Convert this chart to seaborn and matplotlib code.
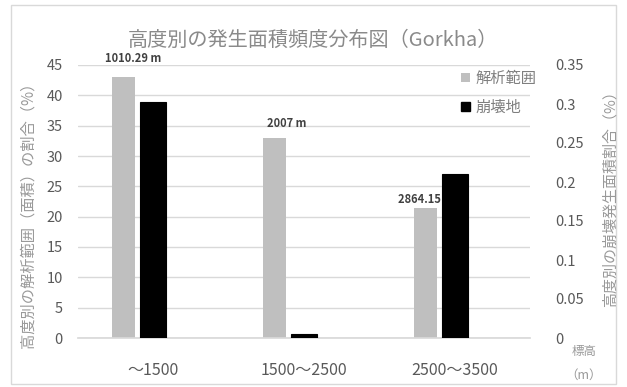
import matplotlib
matplotlib.use("Agg")
import matplotlib.pyplot as plt
from matplotlib.patches import Patch, Rectangle
import seaborn as sns
import pandas as pd
import numpy as np

# Elevation bands and shares per band
bands = ["～1500", "1500～2500", "2500～3500"]
area_share = [43.1, 32.9, 21.4]          # share of analysed area (%), left axis
landslide_share = [0.303, 0.005, 0.2105]  # share of landslide area (%), right axis
mean_elev_labels = ["1010.29 m", "2007 m", "2864.15 m"]

series_names = ["解析範囲", "崩壊地"]

sns.set_theme(style="white")
plt.rcParams["font.family"] = ["Noto Sans CJK JP", "DejaVu Sans"]

W, H = 627, 387
fig = plt.figure(figsize=(W / 100, H / 100), dpi=100)
fig.patch.set_facecolor("white")

# plot area in pixels: x 78..530, y 65..338
ax = fig.add_axes([78 / W, 1 - 338 / H, (530 - 78) / W, (338 - 65) / H])
ax2 = ax.twinx()

idx = np.arange(len(bands))
gray_df = pd.DataFrame({"x": idx - 0.196, "y": area_share})
black_df = pd.DataFrame({"x": idx.astype(float), "y": landslide_share})

sns.barplot(data=gray_df, x="x", y="y", native_scale=True, width=0.152,
            color="#bfbfbf", saturation=1, linewidth=0, ax=ax)
sns.barplot(data=black_df, x="x", y="y", native_scale=True, width=0.172,
            color="black", saturation=1, edgecolor="black", linewidth=0.8, ax=ax2)

ax.set_xlim(-0.5, 2.5)
ax2.set_xlim(-0.5, 2.5)
ax.set_ylim(0, 45)
ax2.set_ylim(0, 0.35)
ax.set_yticks(np.arange(0, 46, 5))
ax2.set_yticks(np.round(np.arange(0, 0.351, 0.05), 2))
ax2.set_yticklabels(["0", "0.05", "0.1", "0.15", "0.2", "0.25", "0.3", "0.35"])
ax.set_xticks(idx)
ax.set_xticklabels(bands)

ax.set_xlabel("")
ax.set_ylabel("")
ax2.set_xlabel("")
ax2.set_ylabel("")

tick_color = "#595959"
ax.tick_params(axis="y", length=0, pad=11, labelsize=10.5, labelcolor=tick_color)
ax.tick_params(axis="x", length=0, pad=17, labelsize=11.5, labelcolor=tick_color)
ax2.tick_params(axis="y", length=0, pad=18, labelsize=10.5, labelcolor=tick_color)

ax.yaxis.grid(True, color="#d9d9d9", linewidth=1)
ax.set_axisbelow(True)
for a in (ax, ax2):
    for s in ("top", "left", "right"):
        a.spines[s].set_visible(False)
    a.spines["bottom"].set_color("#d9d9d9")
    a.patch.set_alpha(0)
ax2.spines["bottom"].set_visible(False)

# mean elevation labels above the analysed-area bars
label_offsets = [(7, 13), (9, 11), (0.5, 6.5)]
for i, (txt, val) in enumerate(zip(mean_elev_labels, area_share)):
    ax.annotate(txt, xy=(idx[i] - 0.196, val), xytext=label_offsets[i],
                textcoords="offset points", ha="center", va="center",
                fontsize=8, color="#404040", fontweight="semibold")

handles = [Patch(facecolor="#bfbfbf", edgecolor="none"),
           Patch(facecolor="black", edgecolor="black")]
leg = ax2.legend(handles, series_names, loc="upper left",
                 bbox_to_anchor=(455 / W, 1 - 64 / H), bbox_transform=fig.transFigure,
                 frameon=False, fontsize=11, handlelength=0.55, handleheight=0.55,
                 handletextpad=0.4, labelspacing=0.75, borderaxespad=0)
for t in leg.get_texts():
    t.set_color("#7f7f7f")

label_color = "#999999"
fig.text(313 / W, 1 - 40 / H, "高度別の発生面積頻度分布図（Gorkha）", ha="center",
         va="center", fontsize=14.5, color="#8a8a8a")
fig.text(28 / W, 1 - 211 / H, "高度別の解析範囲（面積）の割合（%）", rotation=90,
         ha="center", va="center", fontsize=11, color=label_color)
fig.text(610 / W, 1 - 195 / H, "高度別の崩壊発生面積割合（%）", rotation=90,
         ha="center", va="center", fontsize=10.8, color=label_color)
fig.text(584 / W, 1 - 352 / H, "標高", ha="center", va="center",
         fontsize=9, color=label_color)
fig.text(584 / W, 1 - 375 / H, "（m）", ha="center", va="center",
         fontsize=9, color=label_color)

# chart frame
fig.patches.append(Rectangle((11 / W, 1 - 384 / H), (616 - 11) / W, (384 - 5) / H,
                             transform=fig.transFigure, fill=False,
                             edgecolor="#d9d9d9", linewidth=1))

fig.savefig("out.png", dpi=100)
